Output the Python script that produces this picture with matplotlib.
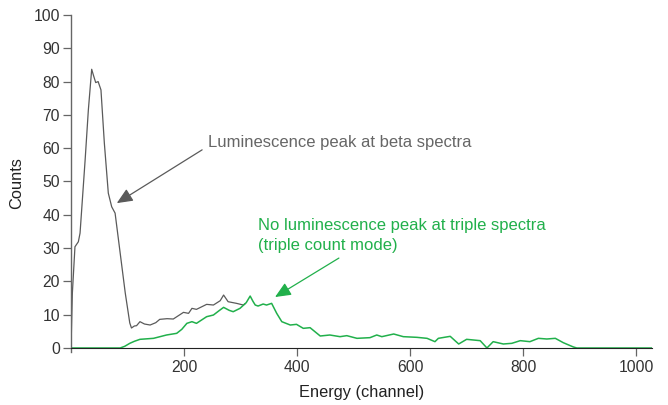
import matplotlib
matplotlib.use("Agg")
import matplotlib.pyplot as plt

plt.rcParams['font.family'] = ['Liberation Sans', 'DejaVu Sans']

beta_x = [0, 2.4, 7, 13, 16, 25, 30.7, 36.6, 39.5, 43.7, 48, 53, 59, 66, 72, 78,
          87, 96, 104, 107, 112, 116, 122, 130, 140, 150, 157, 170, 181, 199,
          208, 214, 222, 240, 252, 264, 270, 278, 293, 305, 308]
beta_y = [0, 16.5, 30.4, 31.9, 34.5, 56.5, 71.5, 83.7, 82, 79.7, 80, 77.5, 61.5,
          46.5, 42.4, 40.5, 28.5, 16.5, 7.5, 6.0, 6.6, 6.7, 7.9, 7.2, 6.9, 7.6,
          8.6, 8.8, 8.7, 10.7, 10.4, 11.9, 11.6, 13.1, 12.9, 14.2, 15.9, 13.9,
          13.4, 12.9, 13.3]

# triple spectrum (green)
triple_x = [0, 87, 95, 104, 112, 122, 146, 169, 187, 196, 205, 214, 222, 240,
            252, 262, 270, 280, 287, 299, 310, 317, 322, 326, 331, 340, 346, 355,
            364, 373, 388, 399, 411, 423, 441, 458, 476, 488, 506, 529, 541, 550,
            571, 588, 612, 630, 644, 650, 671, 686, 700, 724, 736, 747, 765, 780,
            795, 812, 827, 842, 857, 871, 882, 889, 895, 1028]
triple_y = [0, 0, 0.5, 1.4, 2.0, 2.6, 2.9, 3.9, 4.4, 5.6, 7.4, 7.9, 7.4, 9.4,
            9.9, 11.2, 12.2, 11.3, 10.9, 11.9, 13.6, 15.6, 14.0, 12.9, 12.6,
            13.2, 12.9, 13.4, 10.4, 7.9, 6.9, 7.1, 5.9, 6.1, 3.6, 3.9, 3.4, 3.7,
            2.9, 3.1, 3.9, 3.4, 4.2, 3.4, 3.2, 2.9, 1.9, 2.9, 3.5, 1.2, 2.6, 2.2,
            0, 1.9, 1.2, 1.4, 2.2, 1.9, 2.9, 2.7, 2.9, 1.6, 0.8, 0.3, 0, 0]

x_ticks = [200, 400, 600, 800, 1000]
y_ticks = list(range(0, 101, 10))

grey = '#5a5a5a'
green = '#21b04b'

fig = plt.figure(figsize=(6.68, 4.05), dpi=100)
ax = fig.add_axes([0.1063, 0.1309, 0.8697, 0.8321])

ax.plot(beta_x, beta_y, color=grey, lw=0.9)
ax.plot(triple_x, triple_y, color=green, lw=1.1)

ax.set_xlim(0, 1028)
ax.set_ylim(-1.2, 100)
ax.set_xticks(x_ticks)
ax.set_yticks(y_ticks)

for s in ['top', 'right']:
    ax.spines[s].set_visible(False)
ax.spines['bottom'].set_position(('data', 0))
ax.spines['bottom'].set_color('#222222')
ax.spines['left'].set_color('#666666')
ax.spines['left'].set_linewidth(1.0)
ax.tick_params(axis='both', direction='out', length=6, width=0.9,
               colors='#666666', labelcolor='#333333', labelsize=11.3)
ax.tick_params(axis='y', pad=2)
ax.tick_params(axis='x', pad=3)

ax.set_xlabel('Energy (channel)', fontsize=11.8, color='#222222', labelpad=7)
ax.set_ylabel('Counts', fontsize=11.8, color='#222222', labelpad=7)

ax.text(242.5, 61.6, 'Luminescence peak at beta spectra', color='#666666',
        fontsize=12, va='center', ha='left')
ax.annotate('', xy=(81, 43.5), xytext=(232, 59.5),
            arrowprops=dict(arrowstyle='-|>,head_length=0.8,head_width=0.35',
                            color=grey, lw=0.9, mutation_scale=12,
                            shrinkA=0, shrinkB=0))

ax.text(330, 33.8, 'No luminescence peak at triple spectra\n(triple count mode)',
        color=green, fontsize=12, va='center', ha='left', linespacing=1.4)
ax.annotate('', xy=(361, 15.3), xytext=(474, 27),
            arrowprops=dict(arrowstyle='-|>,head_length=0.8,head_width=0.35',
                            color=green, lw=0.9, mutation_scale=12,
                            shrinkA=0, shrinkB=0))

fig.savefig('out.png', dpi=100)
